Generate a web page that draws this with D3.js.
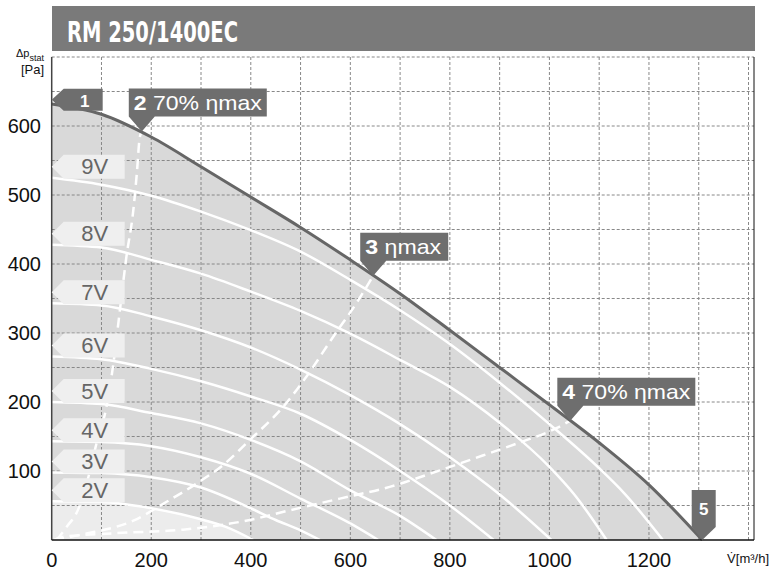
<!DOCTYPE html>
<html><head><meta charset="utf-8">
<script src="https://cdn.jsdelivr.net/npm/d3@7/dist/d3.min.js"></script>
<style>body{margin:0;background:#fff}svg{display:block}</style>
</head><body>
<svg id="c" width="771" height="577"></svg>
<script>
const title = "RM 250/1400EC";
const xTicks = [0, 200, 400, 600, 800, 1000, 1200];
const yTicks = [100, 200, 300, 400, 500, 600];
const xGrid = [100,200,300,400,500,600,700,800,900,1000,1100,1200,1300,1400];
const yGrid = [50,100,150,200,250,300,350,400,450,500,550,600,650,700];

// maximum curve (10V)
const maxCurve = [[0,632],[100,617],[200,584],[300,541],[400,497],[500,453],[600,406],[700,357],[800,304],[900,250],[1000,196],[1100,141],[1200,80],[1307,0]];

// speed curves
const speedNames = ["2V","3V","4V","5V","6V","7V","8V","9V"];
const s2V = [[0,56],[100,55],[200,46],[300,30],[350,19],[405,0]];
const s3V = [[0,98],[100,97],[200,91],[300,76],[400,46],[450,29],[500,14],[539,0]];
const s4V = [[0,143],[100,142],[200,136],[300,120],[400,96],[500,60],[600,24],[656,0]];
const s5V = [[0,200],[100,197],[200,184],[300,169],[400,145],[500,114],[600,72],[700,35],[773,0]];
const s6V = [[0,266],[100,262],[200,248],[300,230],[400,208],[500,183],[600,145],[700,100],[800,50],[888,0]];
const s7V = [[0,343],[100,340],[200,324],[300,304],[400,279],[500,247],[600,210],[700,168],[800,120],[900,66],[1004,0]];
const s8V = [[0,428],[100,424],[200,406],[300,386],[400,360],[500,332],[600,299],[700,261],[800,222],[900,170],[1000,106],[1050,66],[1115,0]];
const s9V = [[0,525],[100,515],[200,499],[300,476],[400,449],[500,418],[600,377],[700,333],[800,284],[900,228],[1000,168],[1100,104],[1150,68],[1228,0]];

// efficiency lines (dashed)
const eta70Left = [[10,0],[30,19],[53,44],[74,92],[90,140],[110,193],[124,256],[137,333],[150,410],[164,478],[171,531],[177,584],[181,592]];
const etaMax = [[5,0],[60,8],[164,28],[230,55],[298,85],[345,109],[398,145],[465,193],[512,237],[566,295],[612,343],[646,383]];
const eta70Right = [[5,0],[17,4],[130,10],[264,15],[398,29],[478,43],[579,60],[679,77],[780,101],[880,126],[947,143],[1014,162],[1042,173]];

// numbered markers
const markerNums = ["1","2","3","4","5"];
const markerTexts = ["", " 70% \u03B7max", " \u03B7max", " 70% \u03B7max", ""];
const markerPts = [[0,638],[181,592],[646,383],[1042,173],[1307,0]];

const FONT = "'Liberation Sans', Arial, Helvetica, sans-serif";
const svg = d3.select("#c");
const x = d3.scaleLinear().domain([0, 1400]).range([51.7, 748.5]);
const y = d3.scaleLinear().domain([0, 700]).range([540, 57]);
const plotRight = 754;

// title bar
svg.append("rect").attr("x", 52).attr("y", 6).attr("width", 703).attr("height", 45).attr("fill", "#7a7a7a");
svg.append("text").attr("x", 67).attr("y", 41.5).text(title)
  .attr("font-family", "'DejaVu Sans Condensed','Liberation Sans Narrow','Open Sans',sans-serif")
  .attr("font-weight", "bold").attr("font-size", 28).attr("fill", "#fff")
  .attr("textLength", 171).attr("lengthAdjust", "spacingAndGlyphs");

const line = d3.line().x(d => x(d[0])).y(d => y(d[1])).curve(d3.curveMonotoneX);
const area = d3.area().x(d => x(d[0])).y0(y(0)).y1(d => y(d[1])).curve(d3.curveMonotoneX);

// shaded regions
svg.append("path").attr("d", area(maxCurve)).attr("fill", "#d9d9d9");
svg.append("path").attr("d", area(s2V)).attr("fill", "#ececec");

// grid
const g = svg.append("g").attr("stroke", "#888").attr("stroke-width", 1).attr("stroke-dasharray", "3,2");
g.selectAll("line.v").data(xGrid).join("line")
  .attr("x1", d => x(d)).attr("x2", d => x(d)).attr("y1", y(700)).attr("y2", y(0));
g.selectAll("line.h").data(yGrid).join("line")
  .attr("x1", x(0)).attr("x2", plotRight).attr("y1", d => y(d)).attr("y2", d => y(d));

// speed curves
const speeds = [s2V, s3V, s4V, s5V, s6V, s7V, s8V, s9V];
svg.append("g").selectAll("path").data(speeds).join("path")
  .attr("d", d => line(d)).attr("fill", "none").attr("stroke", "#fff").attr("stroke-width", 2.5);

// efficiency dashed lines
svg.append("g").selectAll("path").data([eta70Left, etaMax, eta70Right]).join("path")
  .attr("d", d => line(d)).attr("fill", "none").attr("stroke", "#fff").attr("stroke-width", 2.5)
  .attr("stroke-dasharray", "10,6");

// max curve
svg.append("path").attr("d", line(maxCurve)).attr("fill", "none").attr("stroke", "#666").attr("stroke-width", 3);

// frame
svg.append("line").attr("x1", x(0)).attr("x2", x(0)).attr("y1", y(700)).attr("y2", y(0)).attr("stroke", "#444").attr("stroke-width", 1.5);
svg.append("line").attr("x1", x(0)).attr("x2", plotRight).attr("y1", y(0)).attr("y2", y(0)).attr("stroke", "#111").attr("stroke-width", 1.5);
svg.append("line").attr("x1", plotRight).attr("x2", plotRight).attr("y1", y(700)).attr("y2", y(0)).attr("stroke", "#111").attr("stroke-width", 1);

// speed labels
speeds.forEach((s, i) => {
  const yb = y(s[0][1]) + 1, yt = yb - 24, x0 = x(0);
  const pts = [[x0, (yt + yb) / 2], [x0 + 12, yt], [x0 + 73, yt], [x0 + 73, yb], [x0 + 12, yb]];
  svg.append("polygon").attr("points", pts.map(p => p.join(",")).join(" ")).attr("fill", "#efefef");
  svg.append("text").attr("x", x0 + 43).attr("y", yb - 4.5).attr("text-anchor", "middle")
    .attr("font-family", FONT).attr("font-size", 22).attr("fill", "#666").text(speedNames[i]);
});

// markers
markerPts.forEach((p, i) => {
  const tx = x(p[0]), ty = y(p[1]);
  let pts, textX, textY, anchor = "start", fs = 21;
  if (i === 0) {
    pts = [[tx, ty], [tx + 12, ty - 11], [tx + 51, ty - 11], [tx + 51, ty + 11], [tx + 12, ty + 11]];
    textX = tx + 33; textY = ty + 7; anchor = "middle"; fs = 17;
  } else if (i === 4) {
    pts = [[tx - 10.5, ty - 50], [tx + 13.5, ty - 50], [tx + 13.5, ty - 13], [tx, ty], [tx - 10.5, ty - 13]];
    textX = tx + 1.5; textY = ty - 25; anchor = "middle"; fs = 17;
  } else {
    const w = (i === 2) ? 88 : 138;
    const L = tx - 13, B = ty - 15, T = B - 28;
    pts = [[L, T], [L + w, T], [L + w, B], [L + 26, B], [tx, ty], [L, B]];
    textX = L + 5; textY = B - 6.5;
  }
  svg.append("polygon").attr("points", pts.map(q => q.join(",")).join(" ")).attr("fill", "#6e6e6e");
  const t = svg.append("text").attr("x", textX).attr("y", textY).attr("text-anchor", anchor)
    .attr("font-family", FONT).attr("font-size", fs).attr("fill", "#fff");
  t.append("tspan").attr("font-weight", "bold").text(markerNums[i]);
  if (markerTexts[i]) t.append("tspan").text(markerTexts[i]);
  if (i === 1 || i === 3) t.attr("textLength", 128).attr("lengthAdjust", "spacingAndGlyphs");
  if (i === 2) t.attr("textLength", 76).attr("lengthAdjust", "spacingAndGlyphs");
});

// tick labels
svg.append("g").selectAll("text").data(xTicks).join("text")
  .attr("x", d => x(d)).attr("y", 567).attr("text-anchor", "middle")
  .attr("font-family", FONT).attr("font-size", 20).attr("fill", "#111").text(d => d);
svg.append("g").selectAll("text").data(yTicks).join("text")
  .attr("x", 41).attr("y", d => y(d) + 7).attr("text-anchor", "end")
  .attr("font-family", FONT).attr("font-size", 20).attr("fill", "#111").text(d => d);

// axis titles
svg.append("text").attr("x", 769).attr("y", 563).attr("text-anchor", "end")
  .attr("font-family", FONT).attr("font-size", 13).attr("fill", "#111").text("V\u0307[m\u00B3/h]");
const yt1 = svg.append("text").attr("x", 44).attr("y", 57).attr("text-anchor", "end")
  .attr("font-family", FONT).attr("font-size", 11).attr("fill", "#111");
yt1.append("tspan").text("\u0394p");
yt1.append("tspan").attr("font-size", 9).attr("dy", 4).text("stat");
svg.append("text").attr("x", 44).attr("y", 74).attr("text-anchor", "end")
  .attr("font-family", FONT).attr("font-size", 13).attr("fill", "#111").text("[Pa]");
</script>
</body></html>
